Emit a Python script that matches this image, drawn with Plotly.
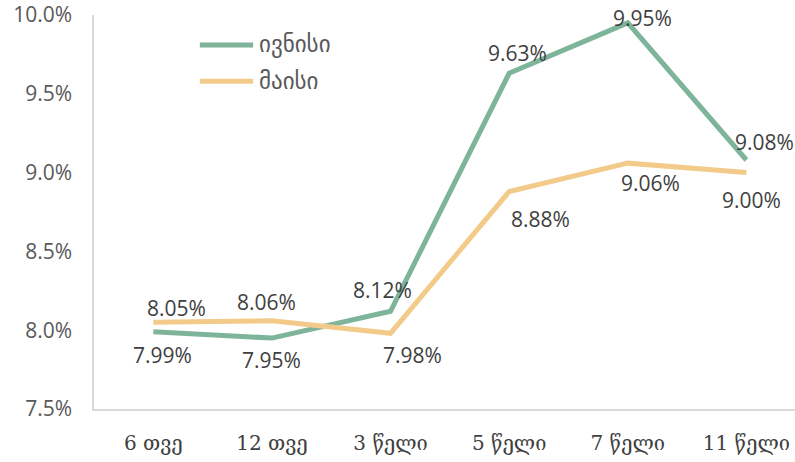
import plotly.graph_objects as go

categories = ["6 თვე", "12 თვე", "3 წელი", "5 წელი", "7 წელი", "11 წელი"]
june = [7.99, 7.95, 8.12, 9.63, 9.95, 9.08]
may = [8.05, 8.06, 7.98, 8.88, 9.06, 9.00]
june_name = "ივნისი"
may_name = "მაისი"
y_ticks = [7.5, 8.0, 8.5, 9.0, 9.5, 10.0]
y_tick_labels = ["7.5%", "8.0%", "8.5%", "9.0%", "9.5%", "10.0%"]

green = "#7EB49A"
orange = "#F2CB8A"

fig = go.Figure()
fig.add_trace(go.Scatter(x=categories, y=june, mode="lines", name=june_name,
                         line=dict(color=green, width=5), showlegend=False))
fig.add_trace(go.Scatter(x=categories, y=may, mode="lines", name=may_name,
                         line=dict(color=orange, width=5), showlegend=False))

# label offsets (px): (xshift, yshift)
june_off = [(9, -23), (0, -22), (-8, 21), (8, 20), (15, 5), (18, 18)]
may_off = [(23, 14), (-5, 19), (22, -22), (31, -27), (23, -20), (5, -27)]
label_font = dict(family="Open Sans, Noto Sans, sans-serif", size=21, color="#404040")
for i, c in enumerate(categories):
    fig.add_annotation(x=c, y=june[i], text=f"{june[i]:.2f}%", showarrow=False,
                       xshift=june_off[i][0], yshift=june_off[i][1], font=label_font)
    fig.add_annotation(x=c, y=may[i], text=f"{may[i]:.2f}%", showarrow=False,
                       xshift=may_off[i][0], yshift=may_off[i][1], font=label_font)

# manual legend
legend_font = dict(family="DejaVu Sans, sans-serif", size=23, color="#595959")
for name, col, yp in [(june_name, green, 0.924), (may_name, orange, 0.832)]:
    fig.add_shape(type="line", xref="paper", yref="paper", x0=0.151, x1=0.227,
                  y0=yp, y1=yp, line=dict(color=col, width=5))
    fig.add_annotation(xref="paper", yref="paper", x=0.232, y=yp, text=name,
                       showarrow=False, xanchor="left", yanchor="middle", font=legend_font)

fig.update_layout(
    width=795, height=462,
    margin=dict(l=94, r=0, t=15, b=53),
    paper_bgcolor="white", plot_bgcolor="white",
    showlegend=False,
    font=dict(family="Open Sans, Noto Sans, sans-serif", color="#595959"),
)
fig.update_xaxes(range=[-0.5, 5.41], showgrid=False, showline=True, linecolor="#D9D9D9",
                 linewidth=1.5, ticks="", zeroline=False, automargin=False,
                 ticklabelstandoff=15,
                 tickfont=dict(family="DejaVu Serif, serif", size=20, color="#404040"))
fig.update_yaxes(range=[7.5, 10.0], tickvals=y_ticks, ticktext=y_tick_labels,
                 showgrid=False, showline=True, linecolor="#D9D9D9", linewidth=1.5,
                 ticks="", zeroline=False, ticklabelstandoff=16, automargin=False,
                 tickfont=dict(family="Open Sans, Noto Sans, sans-serif", size=21, color="#595959"))

fig.write_html("out.html", config={"displayModeBar": False},
               post_script="document.body.style.margin='0';document.body.style.overflow='hidden';")
